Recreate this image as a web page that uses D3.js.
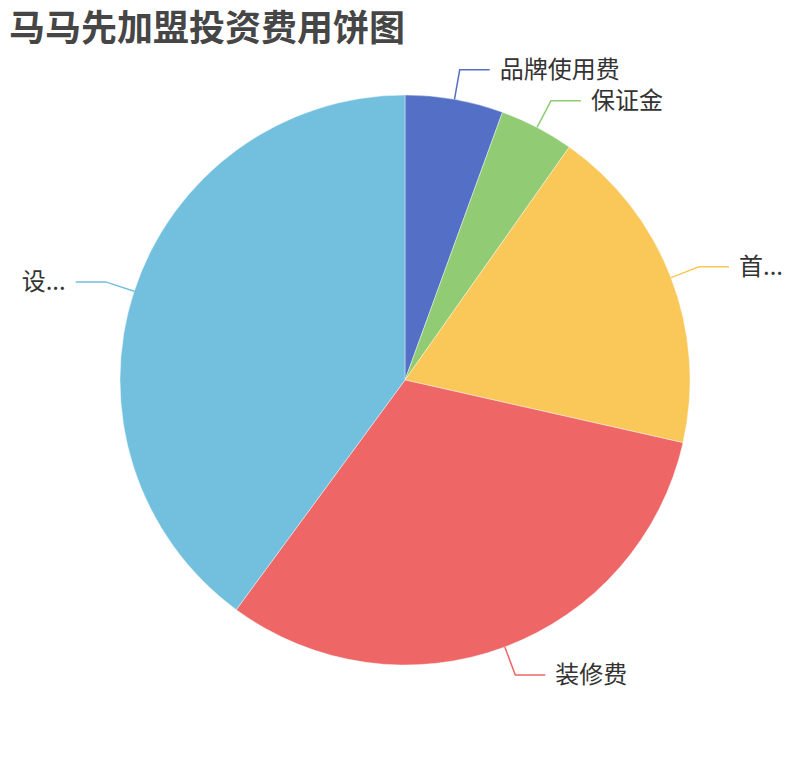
<!DOCTYPE html>
<html>
<head>
<meta charset="utf-8">
<script src="https://d3js.org/d3.v7.min.js"></script>
<style>
  body { margin: 0; background: #fff; }
  text { font-family: "Noto Sans CJK SC", "Noto Sans", sans-serif; }
</style>
</head>
<body>
<svg id="chart" width="810" height="760"></svg>
<script>
// data (labels as shown, two are cut off)
var labels = ["品牌使用费", "保证金", "首...", "装修费", "设..."];
var values = [4, 3.04, 13.5, 22.72, 28.74];
var colors = ["#5470c6", "#91cc75", "#fac858", "#ee6666", "#73c0de"];
var title = "马马先加盟投资费用饼图";

var svg = d3.select("#chart");
var W = +svg.attr("width"), H = +svg.attr("height");
var cx = W / 2, cy = H / 2;
var r = Math.min(W, H) / 2 * 0.75;

svg.append("text")
    .attr("x", 9)
    .attr("y", 41)
    .attr("font-size", 36)
    .attr("font-weight", "bold")
    .attr("fill", "#464646")
    .text(title);

var data = labels.map(function(l, i) { return {label: l, value: values[i], color: colors[i]}; });

var pie = d3.pie().sort(null).value(function(d) { return d.value; });
var arcs = pie(data);
var arc = d3.arc().innerRadius(0).outerRadius(r);

var g = svg.append("g").attr("transform", "translate(" + cx + "," + cy + ")");

g.selectAll("path.slice")
    .data(arcs)
    .enter().append("path")
    .attr("class", "slice")
    .attr("d", arc)
    .attr("fill", function(d) { return d.data.color; })
    .attr("stroke", "#fff")
    .attr("stroke-width", 0.4);

// label lines: radial leg then horizontal leg
var len1 = 30, len2 = 30;
arcs.forEach(function(d) {
    var a = (d.startAngle + d.endAngle) / 2;
    var sx = Math.sin(a), sy = -Math.cos(a);
    var p0 = [r * sx, r * sy];
    var p1 = [(r + len1) * sx, (r + len1) * sy];
    var dir = sx >= 0 ? 1 : -1;
    var p2 = [p1[0] + dir * len2, p1[1]];
    g.append("polyline")
        .attr("points", [p0, p1, p2].map(function(p) { return p.join(","); }).join(" "))
        .attr("fill", "none")
        .attr("stroke", d.data.color)
        .attr("stroke-width", 1.5);
    g.append("text")
        .attr("x", p2[0] + dir * 10)
        .attr("y", p2[1])
        .attr("dy", "0.35em")
        .attr("text-anchor", dir > 0 ? "start" : "end")
        .attr("font-size", 24)
        .attr("fill", "#333")
        .text(d.data.label);
});
</script>
</body>
</html>
